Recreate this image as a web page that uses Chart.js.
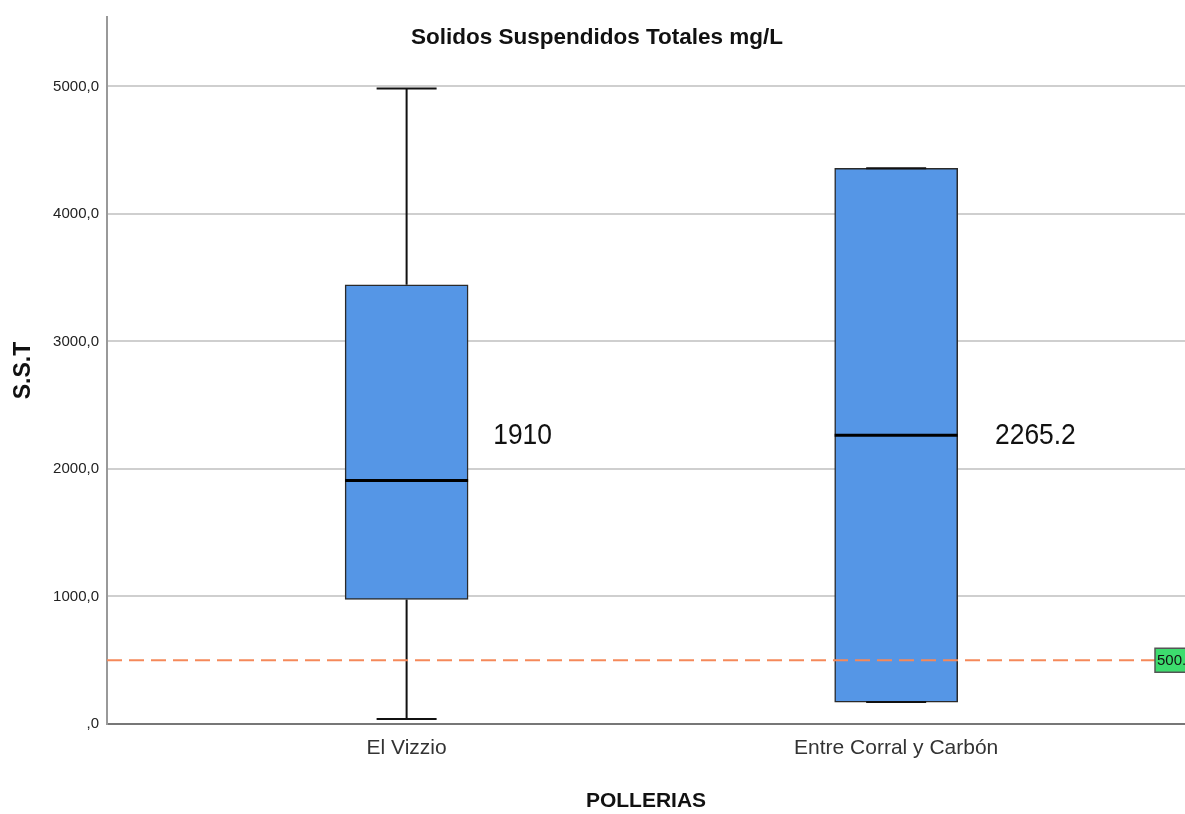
<!DOCTYPE html>
<html>
<head>
<meta charset="utf-8">
<title>Solidos Suspendidos Totales</title>
<script src="https://cdn.jsdelivr.net/npm/chart.js@4.4.0/dist/chart.umd.min.js"></script>
<style>
  html, body { margin: 0; padding: 0; background: #fff; }
  #wrap { width: 1185px; height: 814px; }
</style>
</head>
<body>
<div id="wrap"><canvas id="boxChart" width="1185" height="814"></canvas></div>
<script>
// Datos del diagrama de cajas (mg/L)
const categorias = ['El Vizzio', 'Entre Corral y Carbón'];
const minimos   = [39, 172];
const q1        = [977, 172];
const medianas  = [1910, 2265.2];
const q3        = [3445, 4359];
const maximos   = [4984, 4359];
const etiquetasMediana = ['1910', '2265.2'];
const ticksY    = [0, 1000, 2000, 3000, 4000, 5000];
const limite    = 500;
const etiquetaLimite = '500.';

const FUENTE = '"Liberation Sans", Arial, sans-serif';
const AZUL = '#5596e6';

// Posición de las etiquetas de mediana (unidades del eje)
const etqDx = [0.177, 0.202];
const etqY = 2258;

// Bigotes, medianas, línea de referencia y título
const cajasPlugin = {
  id: 'cajas',
  beforeDatasetsDraw(chart) {
    const { ctx, scales: { x, y } } = chart;
    ctx.save();
    ctx.strokeStyle = '#111';
    ctx.lineWidth = 2;
    categorias.forEach((c, i) => {
      const cx = x.getPixelForValue(i + 1);
      const yMin = y.getPixelForValue(minimos[i]);
      const yMax = y.getPixelForValue(maximos[i]);
      ctx.beginPath();
      ctx.moveTo(cx, yMin); ctx.lineTo(cx, y.getPixelForValue(q1[i]));
      ctx.moveTo(cx, y.getPixelForValue(q3[i])); ctx.lineTo(cx, yMax);
      ctx.stroke();
    });
    ctx.restore();
  },
  afterDatasetsDraw(chart) {
    const { ctx, chartArea, scales: { x, y } } = chart;
    ctx.save();
    categorias.forEach((c, i) => {
      const cx = x.getPixelForValue(i + 1);
      // topes de los bigotes
      ctx.strokeStyle = '#111';
      ctx.lineWidth = 2;
      ctx.beginPath();
      [minimos[i], maximos[i]].forEach(v => {
        const py = y.getPixelForValue(v);
        ctx.moveTo(cx - 30, py); ctx.lineTo(cx + 30, py);
      });
      ctx.stroke();
      // mediana
      const my = y.getPixelForValue(medianas[i]);
      ctx.lineWidth = 3;
      ctx.strokeStyle = '#000';
      ctx.beginPath();
      ctx.moveTo(cx - 61.5, my); ctx.lineTo(cx + 61.5, my);
      ctx.stroke();
      // valor de la mediana
      const lx = x.getPixelForValue(i + 1 + etqDx[i]);
      const ly = y.getPixelForValue(etqY);
      ctx.save();
      ctx.translate(lx, ly);
      ctx.scale(0.88, 1);
      ctx.font = '30px ' + FUENTE;
      ctx.fillStyle = '#111';
      ctx.textAlign = 'left';
      ctx.textBaseline = 'middle';
      ctx.fillText(etiquetasMediana[i], 0, 0);
      ctx.restore();
    });

    // línea de referencia
    const ry = y.getPixelForValue(limite);
    ctx.strokeStyle = '#f5895a';
    ctx.lineWidth = 2;
    ctx.setLineDash([15, 7]);
    ctx.beginPath();
    ctx.moveTo(chartArea.left, ry); ctx.lineTo(chartArea.right - 30, ry);
    ctx.stroke();
    ctx.setLineDash([]);
    ctx.fillStyle = '#3ddc6e';
    ctx.strokeStyle = '#555';
    ctx.lineWidth = 1.5;
    ctx.fillRect(chartArea.right - 30, ry - 12, 32, 24);
    ctx.strokeRect(chartArea.right - 30, ry - 12, 32, 24);
    ctx.fillStyle = '#111';
    ctx.font = '15px ' + FUENTE;
    ctx.textAlign = 'left';
    ctx.textBaseline = 'middle';
    ctx.fillText(etiquetaLimite, chartArea.right - 28, ry + 1);

    // título
    ctx.font = 'bold 22.5px ' + FUENTE;
    ctx.fillStyle = '#111';
    ctx.textAlign = 'center';
    ctx.fillText('Solidos Suspendidos Totales mg/L', 597, 38);
    ctx.restore();
  }
};

const ctx = document.getElementById('boxChart').getContext('2d');
new Chart(ctx, {
  type: 'bar',
  data: {
    datasets: [{
      data: categorias.map((c, i) => ({ x: i + 1, y: [q1[i], q3[i]] })),
      backgroundColor: AZUL,
      borderColor: '#2a2a2a',
      borderWidth: 1.5,
      borderSkipped: false,
      barThickness: 123
    }]
  },
  options: {
    responsive: false,
    animation: false,
    layout: { padding: { top: 15, right: 0, left: 0, bottom: 0 } },
    plugins: { legend: { display: false }, tooltip: { enabled: false } },
    scales: {
      x: {
        type: 'linear',
        offset: false,
        min: 0.388,
        max: 2.59,
        afterBuildTicks: s => { s.ticks = categorias.map((c, i) => ({ value: i + 1 })); },
        afterFit: s => { s.height = 90; },
        grid: { display: false, drawTicks: false, offset: false },
        border: { color: '#777', width: 2 },
        ticks: {
          padding: 12,
          color: '#333',
          font: { family: FUENTE, size: 21 },
          callback: v => categorias[v - 1]
        },
        title: {
          display: true,
          text: 'POLLERIAS',
          color: '#111',
          padding: { top: 0, bottom: 0 },
          font: { family: FUENTE, size: 21, weight: 'bold' }
        }
      },
      y: {
        min: 0,
        max: 5545,
        afterBuildTicks: s => { s.ticks = ticksY.map(v => ({ value: v })); },
        afterFit: s => { s.width = 107; },
        grid: { color: '#cfcfcf', lineWidth: 2, drawTicks: false },
        border: { color: '#999', width: 2 },
        ticks: {
          padding: 8,
          color: '#222',
          font: { family: FUENTE, size: 15 },
          callback: v => v === 0 ? ',0' : v.toFixed(1).replace('.', ',')
        },
        title: {
          display: true,
          text: 'S.S.T',
          color: '#111',
          padding: { top: 10, bottom: 0 },
          font: { family: FUENTE, size: 23, weight: 'bold' }
        }
      }
    }
  },
  plugins: [cajasPlugin]
});
</script>
</body>
</html>
